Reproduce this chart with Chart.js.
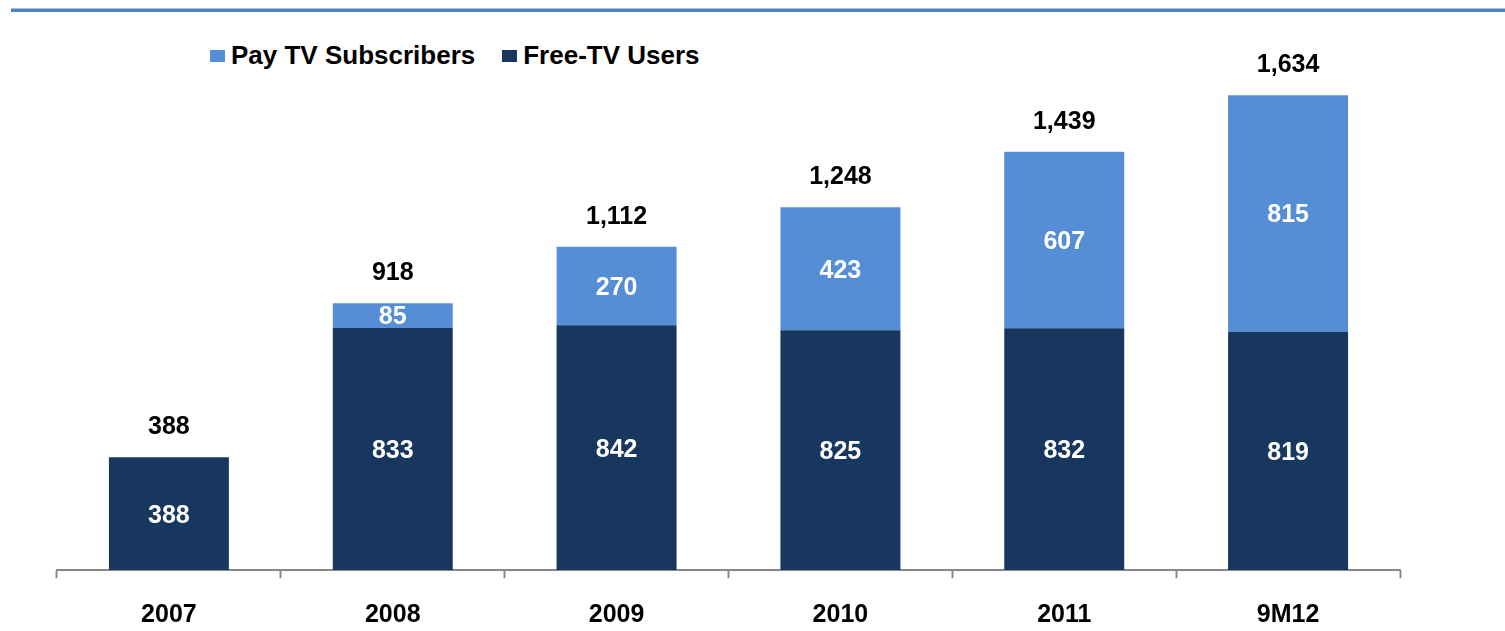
<!DOCTYPE html>
<html>
<head>
<meta charset="utf-8">
<script src="https://cdn.jsdelivr.net/npm/chart.js@4"></script>
<style>
  html, body { margin: 0; padding: 0; background: #fff; }
  #wrap { position: relative; width: 1505px; height: 631px; overflow: hidden; }
  #topline { position: absolute; left: 11px; right: 0; top: 8px; height: 3px; background: #4f81bd; border-top: 1px solid #a9c1e0; }
  #legend { position: absolute; left: 210px; top: 40px; font: bold 26px "Liberation Sans", Arial, sans-serif; line-height: 30px; color: #000; white-space: nowrap; }
  #legend span.item { display: inline-block; margin-right: 27px; }
  #legend span.box { display: inline-block; width: 15px; height: 12px; margin-right: 6px; vertical-align: 2px; }
  canvas { position: absolute; left: 0; top: 0; }
</style>
</head>
<body>
<div id="wrap">
  <div id="topline"></div>
  <div id="legend">
    <span class="item"><span class="box" style="background:#558ed5"></span>Pay TV Subscribers</span><span class="item"><span class="box" style="background:#17375e"></span>Free-TV Users</span>
  </div>
  <canvas id="myChart" width="1505" height="654"></canvas>
</div>
<script>
var years = ["2007", "2008", "2009", "2010", "2011", "9M12"];
var freeTv = [388, 833, 842, 825, 832, 819];
var payTv = [0, 85, 270, 423, 607, 815];
var totals = [388, 918, 1112, 1248, 1439, 1634];

var darkBlue = "#17375e";
var lightBlue = "#558ed5";
var labelFont = 'bold 25px "Liberation Sans", Arial, sans-serif';

function fmt(n) {
  return n.toLocaleString("en-US");
}

// labels inside each segment and totals above the stack
var barLabels = {
  id: "barLabels",
  afterDatasetsDraw: function (chart) {
    var ctx = chart.ctx;
    ctx.save();
    ctx.font = labelFont;
    ctx.textAlign = "center";
    ctx.textBaseline = "middle";
    chart.data.datasets.forEach(function (ds, di) {
      var meta = chart.getDatasetMeta(di);
      meta.data.forEach(function (bar, i) {
        var v = ds.data[i];
        if (!v) return;
        ctx.fillStyle = "#fff";
        ctx.fillText(fmt(v), bar.x, (bar.y + bar.base) / 2 + 2);
      });
    });
    var topMeta = chart.getDatasetMeta(1);
    var yScale = chart.scales.y;
    ctx.fillStyle = "#000";
    totals.forEach(function (t, i) {
      var x = topMeta.data[i].x;
      ctx.fillText(fmt(t), x, yScale.getPixelForValue(t) - 30);
    });
    ctx.restore();
  }
};

new Chart("myChart", {
  type: "bar",
  data: {
    labels: years,
    datasets: [
      { label: "Free-TV Users", data: freeTv, backgroundColor: darkBlue },
      { label: "Pay TV Subscribers", data: payTv, backgroundColor: lightBlue }
    ]
  },
  options: {
    responsive: false,
    animation: false,
    layout: { padding: { left: 57, right: 105, top: 60, bottom: 2 } },
    plugins: {
      legend: { display: false },
      tooltip: { enabled: false }
    },
    datasets: {
      bar: { categoryPercentage: 1, barPercentage: 0.536 }
    },
    scales: {
      x: {
        stacked: true,
        offset: true,
        grid: {
          offset: true,
          drawOnChartArea: false,
          drawTicks: true,
          tickLength: 8,
          tickColor: "#888",
          tickWidth: 2
        },
        border: { color: "#888", width: 2 },
        ticks: {
          color: "#000",
          padding: 22,
          font: { family: '"Liberation Sans", Arial, sans-serif', size: 25, weight: "bold" }
        }
      },
      y: {
        stacked: true,
        display: false,
        min: 0,
        max: 1755
      }
    }
  },
  plugins: [barLabels]
});
</script>
</body>
</html>
